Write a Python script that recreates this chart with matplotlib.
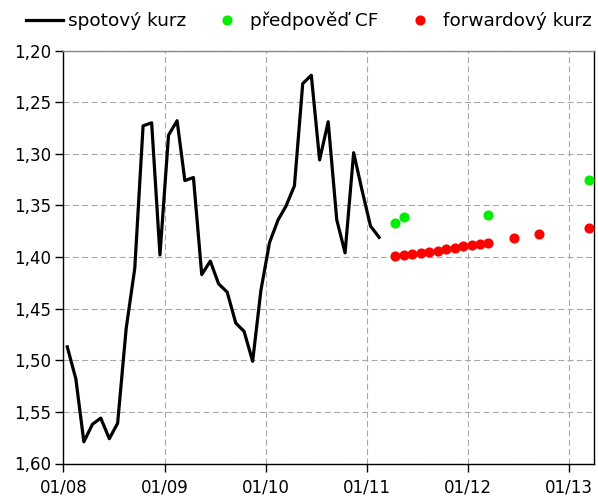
import datetime as dt
import matplotlib
matplotlib.use('Agg')
import matplotlib.pyplot as plt
import matplotlib.dates as mdates
from matplotlib.ticker import FuncFormatter, MultipleLocator

# spotovy kurz, monthly Jan 2008 - Feb 2011
spot_vals = [1.487, 1.518, 1.579, 1.562, 1.556, 1.576, 1.561, 1.469, 1.411, 1.273, 1.270, 1.398,
             1.282, 1.268, 1.326, 1.323, 1.417, 1.404, 1.426, 1.434, 1.464, 1.472, 1.501, 1.432,
             1.386, 1.364, 1.351, 1.331, 1.232, 1.224, 1.306, 1.269, 1.364, 1.396, 1.299, 1.335,
             1.370, 1.381]
spot_dates = [dt.date(2008 + i // 12, i % 12 + 1, 15) for i in range(len(spot_vals))]

# predpoved CF
cf_dates = [dt.date(2011, 4, 15), dt.date(2011, 5, 15), dt.date(2012, 3, 15), dt.date(2013, 3, 15)]
cf_vals = [1.367, 1.361, 1.359, 1.325]

# forwardovy kurz
fwd_dates = [dt.date(2011 + (3 + i) // 12, (3 + i) % 12 + 1, 15) for i in range(12)] + \
            [dt.date(2012, 6, 15), dt.date(2012, 9, 15), dt.date(2013, 3, 15)]
fwd_vals = [1.399, 1.398, 1.397, 1.396, 1.395, 1.394, 1.392, 1.391, 1.389, 1.388, 1.387, 1.386,
            1.382, 1.378, 1.372]

plt.rcParams['font.family'] = 'DejaVu Sans'
plt.rcParams['font.size'] = 12

fig = plt.figure(figsize=(5.98, 5.0), dpi=100)
ax = fig.add_axes([0.106, 0.073, 0.887, 0.826])

ax.plot(spot_dates, spot_vals, color='black', lw=2.3, label='spotový kurz', zorder=3)
ax.plot(cf_dates, cf_vals, 'o', color='#00ee00', ms=6.3, label='předpověď CF', zorder=4, clip_on=False)
ax.plot(fwd_dates, fwd_vals, 'o', color='#ff0000', ms=6.3, label='forwardový kurz', zorder=4, clip_on=False)

ax.set_xlim(dt.date(2008, 1, 1), dt.date(2013, 4, 1))
ax.set_ylim(1.60, 1.20)
ax.yaxis.set_major_locator(MultipleLocator(0.05))
ax.yaxis.set_major_formatter(FuncFormatter(lambda v, p: ('%.2f' % v).replace('.', ',')))
ax.xaxis.set_major_locator(mdates.YearLocator())
ax.xaxis.set_major_formatter(mdates.DateFormatter('%m/%y'))

ax.grid(True, color='#a8a8a8', lw=0.8, linestyle=(0, (5.4, 3)))
ax.set_axisbelow(True)
for s in ['left', 'bottom', 'right']:
    ax.spines[s].set_color('black')
    ax.spines[s].set_linewidth(1)
ax.spines['top'].set_color('#888888')
ax.spines['top'].set_linewidth(1)
ax.tick_params(direction='out', length=6, width=1, labelsize=12, pad=3)
ax.tick_params(axis='x', pad=5)

fig.legend(loc='center left', bbox_to_anchor=(26 / 598, 1 - 21 / 500), ncol=3, frameon=False,
           handlelength=2.0, handletextpad=0.25, columnspacing=1.25, borderaxespad=0,
           borderpad=0, fontsize=13.3)

fig.savefig('out.png', dpi=100)
